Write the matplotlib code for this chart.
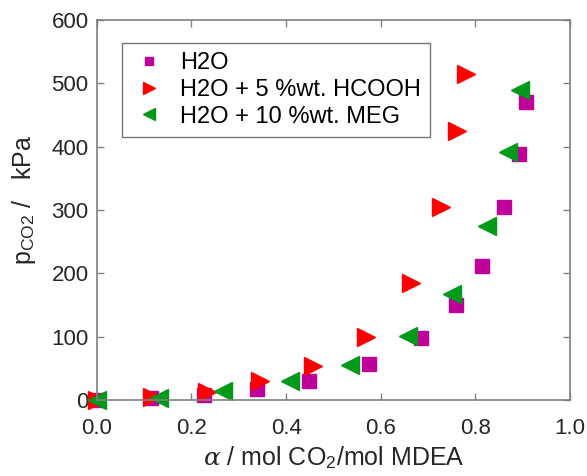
import matplotlib.pyplot as plt

plt.rcParams['font.family'] = ['Liberation Sans', 'DejaVu Sans']
plt.rcParams['mathtext.fontset'] = 'custom'
plt.rcParams['mathtext.rm'] = 'Liberation Sans'
plt.rcParams['mathtext.it'] = 'DejaVu Serif:italic'

# H2O
alpha_h2o = [0.0, 0.114, 0.227, 0.338, 0.449, 0.575, 0.686, 0.759, 0.813, 0.860, 0.893, 0.908]
p_h2o = [0, 2.6, 8, 17, 30.5, 57, 98, 149.5, 212, 305, 389, 471]

# H2O + 5 %wt. HCOOH
alpha_hcooh = [0.0, 0.116, 0.232, 0.345, 0.457, 0.569, 0.665, 0.727, 0.762, 0.780]
p_hcooh = [0, 4, 13, 29, 54, 100, 185, 304, 425, 515]

# H2O + 10 %wt. MEG
alpha_meg = [0.0, 0.132, 0.267, 0.408, 0.535, 0.658, 0.750, 0.824, 0.870, 0.894]
p_meg = [0, 3, 14, 30, 55, 101, 167, 274, 391, 490]

fig = plt.figure(figsize=(5.87, 4.76), dpi=100)
ax = fig.add_axes([0.165, 0.16, 0.806, 0.798])

ax.plot(alpha_h2o, p_h2o, 's', color='#BF0099', markersize=10, linestyle='none',
        label='H2O', clip_on=False)
ax.plot(alpha_hcooh, p_hcooh, '>', color='#FF0000', markersize=13.5, linestyle='none',
        label='H2O + 5 %wt. HCOOH', clip_on=False)
ax.plot(alpha_meg, p_meg, '<', color='#00991A', markersize=13.5, linestyle='none',
        label='H2O + 10 %wt. MEG', clip_on=False)

ax.set_xlim(0, 1.0)
ax.set_ylim(0, 600)
ax.set_xticks([0, 0.2, 0.4, 0.6, 0.8, 1.0])
ax.set_xticklabels(['0.0', '0.2', '0.4', '0.6', '0.8', '1.0'])
ax.set_yticks([0, 100, 200, 300, 400, 500, 600])

for s in ax.spines.values():
    s.set_color('#808080')
    s.set_linewidth(1.2)
ax.tick_params(direction='in', top=True, right=True, length=5, width=1,
               colors='#808080', labelcolor='#262626', labelsize=16)
ax.tick_params(axis='x', pad=13)
ax.tick_params(axis='y', pad=6)

ax.set_xlabel(r'$\alpha$ / mol CO$_2$/mol MDEA', fontsize=18, color='#262626', labelpad=4)
ax.set_ylabel(r'p$_{\mathrm{CO2}}$ /   kPa', fontsize=18, color='#262626')
ax.yaxis.set_label_coords(-0.124, 0.526)

leg = ax.legend(loc='upper left', bbox_to_anchor=(0.053, 0.94), fontsize=17, markerscale=0.6,
                frameon=True, fancybox=False, edgecolor='#555555', handletextpad=0.55,
                borderpad=0.4, labelspacing=0.2, handlelength=1.5, borderaxespad=0)
leg.get_frame().set_linewidth(1.0)

fig.savefig('out.png', dpi=100)
